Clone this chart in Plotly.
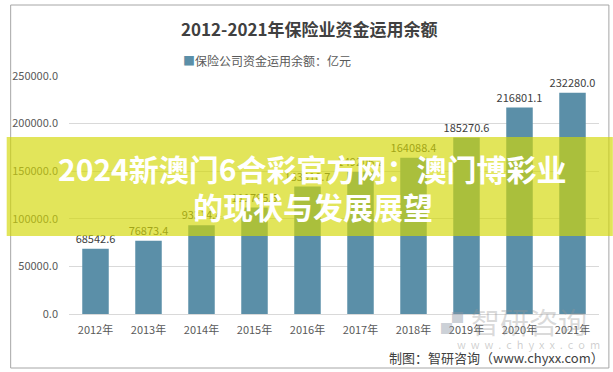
import plotly.graph_objects as go

years = ["2012年", "2013年", "2014年", "2015年", "2016年", "2017年", "2018年", "2019年", "2020年", "2021年"]
values = [68542.6, 76873.4, 93314.4, 111795.5, 133910.7, 149206.2, 164088.4, 185270.6, 216801.1, 232280.0]
y_ticks = [0, 50000, 100000, 150000, 200000, 250000]

W, H = 613, 372
L, R, T, B = 63, 14, 76, 58
PW, PH = W - L - R, H - T - B


def px(x):
    return (x - L) / PW


def py(y):
    return (H - B - y) / PH


FONT = "Noto Sans CJK SC, Microsoft YaHei, sans-serif"

fig = go.Figure()
fig.add_trace(go.Bar(
    x=years, y=values,
    name="保险公司资金运用余额：亿元",
    marker=dict(color="#5b8fa8", line=dict(width=0)),
    text=[f"{v:.1f}" for v in values],
    textposition="outside",
    constraintext="none",
    textfont=dict(size=11, color="#404040", family=FONT),
    cliponaxis=False,
    width=0.5,
))

shapes = [
    dict(type="rect", xref="paper", yref="paper",
         x0=px(4), x1=px(609), y0=py(368), y1=py(5),
         line=dict(color="#a6a6a6", width=1), fillcolor="rgba(0,0,0,0)", layer="below"),
    dict(type="rect", xref="paper", yref="paper",
         x0=px(0), x1=px(613), y0=py(236), y1=py(137),
         line=dict(width=0), fillcolor="rgba(211,216,5,0.66)", layer="above"),
]

annotations = [
    dict(text="<b>2012-2021年保险业资金运用余额</b>", xref="paper", yref="paper",
         x=px(306), y=py(28), showarrow=False, xanchor="center", yanchor="middle",
         font=dict(size=17, color="#404040", family=FONT)),
    dict(text="<span style='color:#5b8fa8'>■</span>保险公司资金运用余额：亿元", xref="paper", yref="paper",
         x=px(263), y=py(60), showarrow=False, xanchor="center", yanchor="middle",
         font=dict(size=12, color="#595959", family=FONT)),
    dict(text="<b>▞</b>", xref="paper", yref="paper",
         x=px(450), y=py(321), showarrow=False, xanchor="center", yanchor="middle",
         font=dict(size=22, color="rgba(140,150,165,0.45)", family=FONT)),
    dict(text="智研咨询", xref="paper", yref="paper",
         x=px(528), y=py(321), showarrow=False, xanchor="center", yanchor="middle",
         font=dict(size=29, color="rgba(150,150,150,0.35)", family=FONT)),
    dict(text="w  w  w  .  c  h  y  x  x  .  c  o  m", xref="paper", yref="paper",
         x=px(528), y=py(344), showarrow=False, xanchor="center", yanchor="middle",
         font=dict(size=11, color="rgba(150,150,150,0.45)", family=FONT)),
    dict(text="制图：智研咨询（www.chyxx.com）", xref="paper", yref="paper",
         x=px(606), y=py(357), showarrow=False, xanchor="right", yanchor="middle",
         font=dict(size=13, color="#404040", family=FONT)),
    dict(text="<b>2024新澳门6合彩官方网：澳门博彩业</b>", xref="paper", yref="paper",
         x=px(309), y=py(168), showarrow=False, xanchor="center", yanchor="middle",
         font=dict(size=30, color="white", family=FONT)),
    dict(text="<b>的现状与发展展望</b>", xref="paper", yref="paper",
         x=px(310), y=py(206), showarrow=False, xanchor="center", yanchor="middle",
         font=dict(size=30, color="white", family=FONT)),
]

fig.update_layout(
    width=W, height=H,
    margin=dict(l=L, r=R, t=T, b=B, pad=0),
    paper_bgcolor="white", plot_bgcolor="white",
    showlegend=False,
    shapes=shapes, annotations=annotations,
    bargap=0.5,
    font=dict(family=FONT),
    xaxis=dict(showgrid=False, showline=True, linecolor="#d9d9d9", linewidth=1,
               tickfont=dict(size=11, color="#595959", family=FONT), ticks="",
               ticklabelstandoff=6),
    yaxis=dict(range=[0, 250000], tickvals=y_ticks, tickformat=".1f",
               showgrid=True, gridcolor="#d9d9d9", gridwidth=1, zeroline=False,
               showline=False, ticks="", ticklabelstandoff=10,
               tickfont=dict(size=11, color="#595959", family=FONT)),
)

fig.write_html("out.html")
